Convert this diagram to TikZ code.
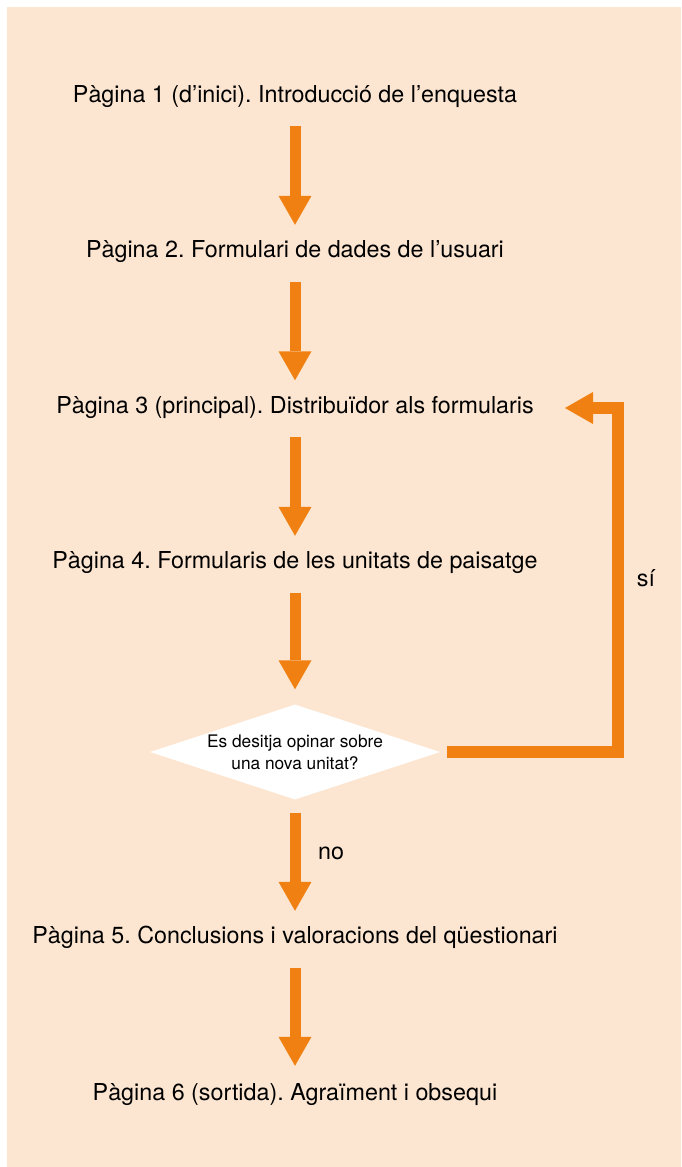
\documentclass[tikz,border=0pt]{standalone}
\usepackage{fontspec}
\setmainfont{TeX Gyre Heros}
\usetikzlibrary{arrows.meta,shapes.geometric}
\definecolor{peach}{RGB}{253,230,209}
\definecolor{flowor}{RGB}{240,128,17}
\frenchspacing

\begin{document}
\begin{tikzpicture}[x = 1pt, y = -1pt,
  page/.style = {anchor=base, inner sep=0pt, text height=16.5pt, text depth=0pt, font=\fontsize{23.3}{27}\selectfont},
  ask/.style = {diamond, fill=white, inner sep=0pt, aspect=3.05, minimum width=290pt, minimum height=95pt, align=center, font=\fontsize{17.3}{22}\selectfont},
  lab/.style = {inner sep=0pt, font=\fontsize{23.3}{27}\selectfont},
  flow/.style = {draw=flowor, line width=11pt, -{Triangle[width=33pt,length=29pt,line width=0pt]}, shorten <=24pt, shorten >=16pt},
  backflow/.style = {draw=flowor, line width=11.5pt, line join=miter, -{Triangle[width=32pt,length=28pt,line width=0pt]}, shorten <=7pt}]
\useasboundingbox (0,0) rectangle (681,1167);
\path [fill=peach] (7,7) rectangle (681,1167); % background panel
\node [page] (p1) at (295,102) {Pàgina 1 (d’inici). Introducció de l’enquesta};
\node [page] (p2) at (295,257.5) {Pàgina 2. Formulari de dades de l’usuari};
\node [page] (p3) at (295,413) {Pàgina 3 (principal). Distribuïdor als formularis};
\node [page] (p4) at (295,568.5) {Pàgina 4. Formularis de les unitats de paisatge};
\node [ask] (q) at (295,752) {Es desitja opinar sobre\\una nova unitat?};
\node [page] (p5) at (295,943) {Pàgina 5. Conclusions i valoracions del qüestionari};
\node [page] (p6) at (295,1100) {Pàgina 6 (sortida). Agraïment i obsequi};
\node [lab] (yes) at (646,578) {sí};
\node [lab] (no) at (331,853) {no};
\coordinate (bend) at (618,408);
\coordinate (back) at (565,408);
\draw [flow] (p1) -- (p2);
\draw [flow] (p2) -- (p3);
\draw [flow] (p3) -- (p4);
\draw [flow, shorten >=15pt] (p4) -- (q);
\draw [flow, shorten <=13pt, shorten >=15.5pt] (q) -- (p5);
\draw [flow, shorten <=25pt, shorten >=17.5pt] (p5) -- (p6);
\draw [backflow] (q.east) -| (bend) -- (back);
\end{tikzpicture}
\end{document}
